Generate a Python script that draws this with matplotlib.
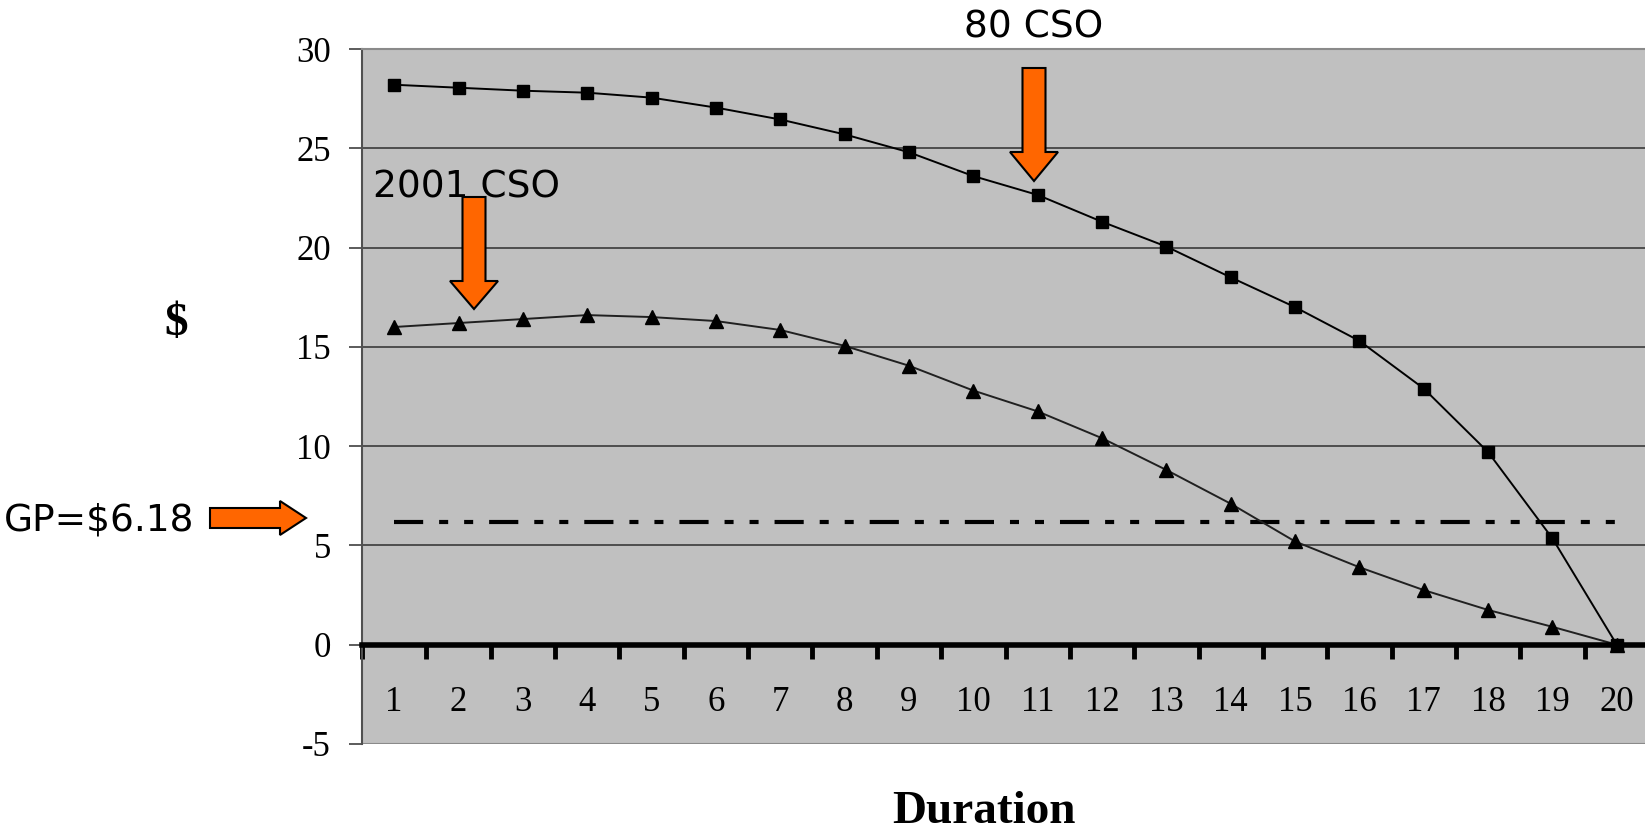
import matplotlib as mpl
mpl.use('Agg')

import numpy as np
import matplotlib.pyplot as plt
from matplotlib.patches import FancyArrow

plt.rcParams['lines.scale_dashes'] = False

#--- data ---#
duration = np.arange(1, 21)
cso80 = [28.2, 28.05, 27.9, 27.8, 27.55, 27.05, 26.45, 25.7, 24.8, 23.6,
         22.65, 21.3, 20.05, 18.5, 17.0, 15.3, 12.9, 9.7, 5.35, 0.0]
cso2001 = [16.0, 16.2, 16.4, 16.6, 16.5, 16.3, 15.85, 15.05, 14.05, 12.8,
           11.75, 10.4, 8.8, 7.1, 5.2, 3.9, 2.75, 1.75, 0.9, 0.0]
gp = 6.18
gp_x = [1, 20]
yticks = [-5, 0, 5, 10, 15, 20, 25, 30]

W, H = 1645, 834
fig = plt.figure(figsize=(W/100., H/100.), dpi=100)
ax = fig.add_axes([362./W, 90./H, 1287./W, 695./H])
ax.set_facecolor('#C0C0C0')

serif = 'Liberation Serif'
sans = 'DejaVu Sans'

#--- series ---#
ax.plot(duration, cso80, color='k', lw=1.4, marker='s', markersize=8.8, zorder=4)
ax.plot(duration, cso2001, color='#202020', lw=1.4, marker='^', markersize=10,
        markerfacecolor='k', markeredgecolor='k', zorder=4)
ax.plot(gp_x, [gp, gp], color='k', lw=3.0, dash_capstyle='butt',
        linestyle=(0, (21, 11.5, 6.5, 11.5, 6.5, 11.5)), zorder=3)

#--- axes ---#
ax.set_xlim(0.5, 20.5)
ax.set_ylim(-5, 30)
ax.set_yticks(yticks)
ax.set_yticklabels([str(v) for v in yticks], fontsize=25, family=serif)
ax.tick_params(axis='y', direction='out', length=9.5, width=1.2, color='#404040', pad=13)
ax.yaxis.grid(True, color='#3a3a3a', lw=1.2)
ax.set_axisbelow(True)

ax.spines['bottom'].set_position(('data', 0))
ax.spines['bottom'].set_linewidth(4)
ax.spines['bottom'].set_color('k')
ax.spines['bottom'].set_zorder(5)
ax.spines['left'].set_color('#505050')
ax.spines['left'].set_linewidth(1.5)
ax.spines['top'].set_color('#8a8a8a')
ax.spines['top'].set_linewidth(1.5)
ax.spines['right'].set_visible(False)

ax.set_xticks(duration)
ax.set_xticklabels([str(d) for d in duration], fontsize=25, family=serif)
ax.set_xticks(np.arange(0.5, 20.5, 1), minor=True)
ax.tick_params(axis='x', which='major', length=0, pad=30)
ax.tick_params(axis='x', which='minor', direction='out', length=10, width=3.5, color='k')
for t in ax.xaxis.get_minorticklines():
    t.set_solid_capstyle('round')
ax.axhline(-5, color='#8a8a8a', lw=1.5, zorder=2)

#--- labels ---#
fig.text(176./W, 1 - 324./H, '$', fontsize=34, family=serif, weight='bold',
         ha='center', va='center')
fig.text(984./W, 1 - 812./H, 'Duration', fontsize=34, family=serif, weight='bold',
         ha='center', va='center')

fig.text(1034./W, 1 - 27./H, '80 CSO', fontsize=27, family=sans,
         ha='center', va='center')
fig.text(373./W, 1 - 187./H, '2001 CSO', fontsize=27, family=sans,
         ha='left', va='center', zorder=6)
fig.text(4./W, 1 - 520./H, 'GP=$6.18', fontsize=27, family=sans,
         ha='left', va='center')

#--- orange block arrows (pixel positions, top-left origin) ---#
def block_arrow(x0, y0, x1, y1, shaft, head_w, head_l):
    a = FancyArrow(x0/100., (H - y0)/100., (x1 - x0)/100., -(y1 - y0)/100.,
                   width=shaft/100., head_width=head_w/100., head_length=head_l/100.,
                   length_includes_head=True, fc='#FF6600', ec='k', lw=1.5,
                   transform=fig.dpi_scale_trans, zorder=10)
    fig.add_artist(a)

block_arrow(1034, 68, 1034, 181, 23, 48, 29)
block_arrow(474, 197, 474, 309, 23, 48, 28)
block_arrow(210, 518, 306, 518, 20, 34, 26)

fig.savefig('out.png', dpi=100)
